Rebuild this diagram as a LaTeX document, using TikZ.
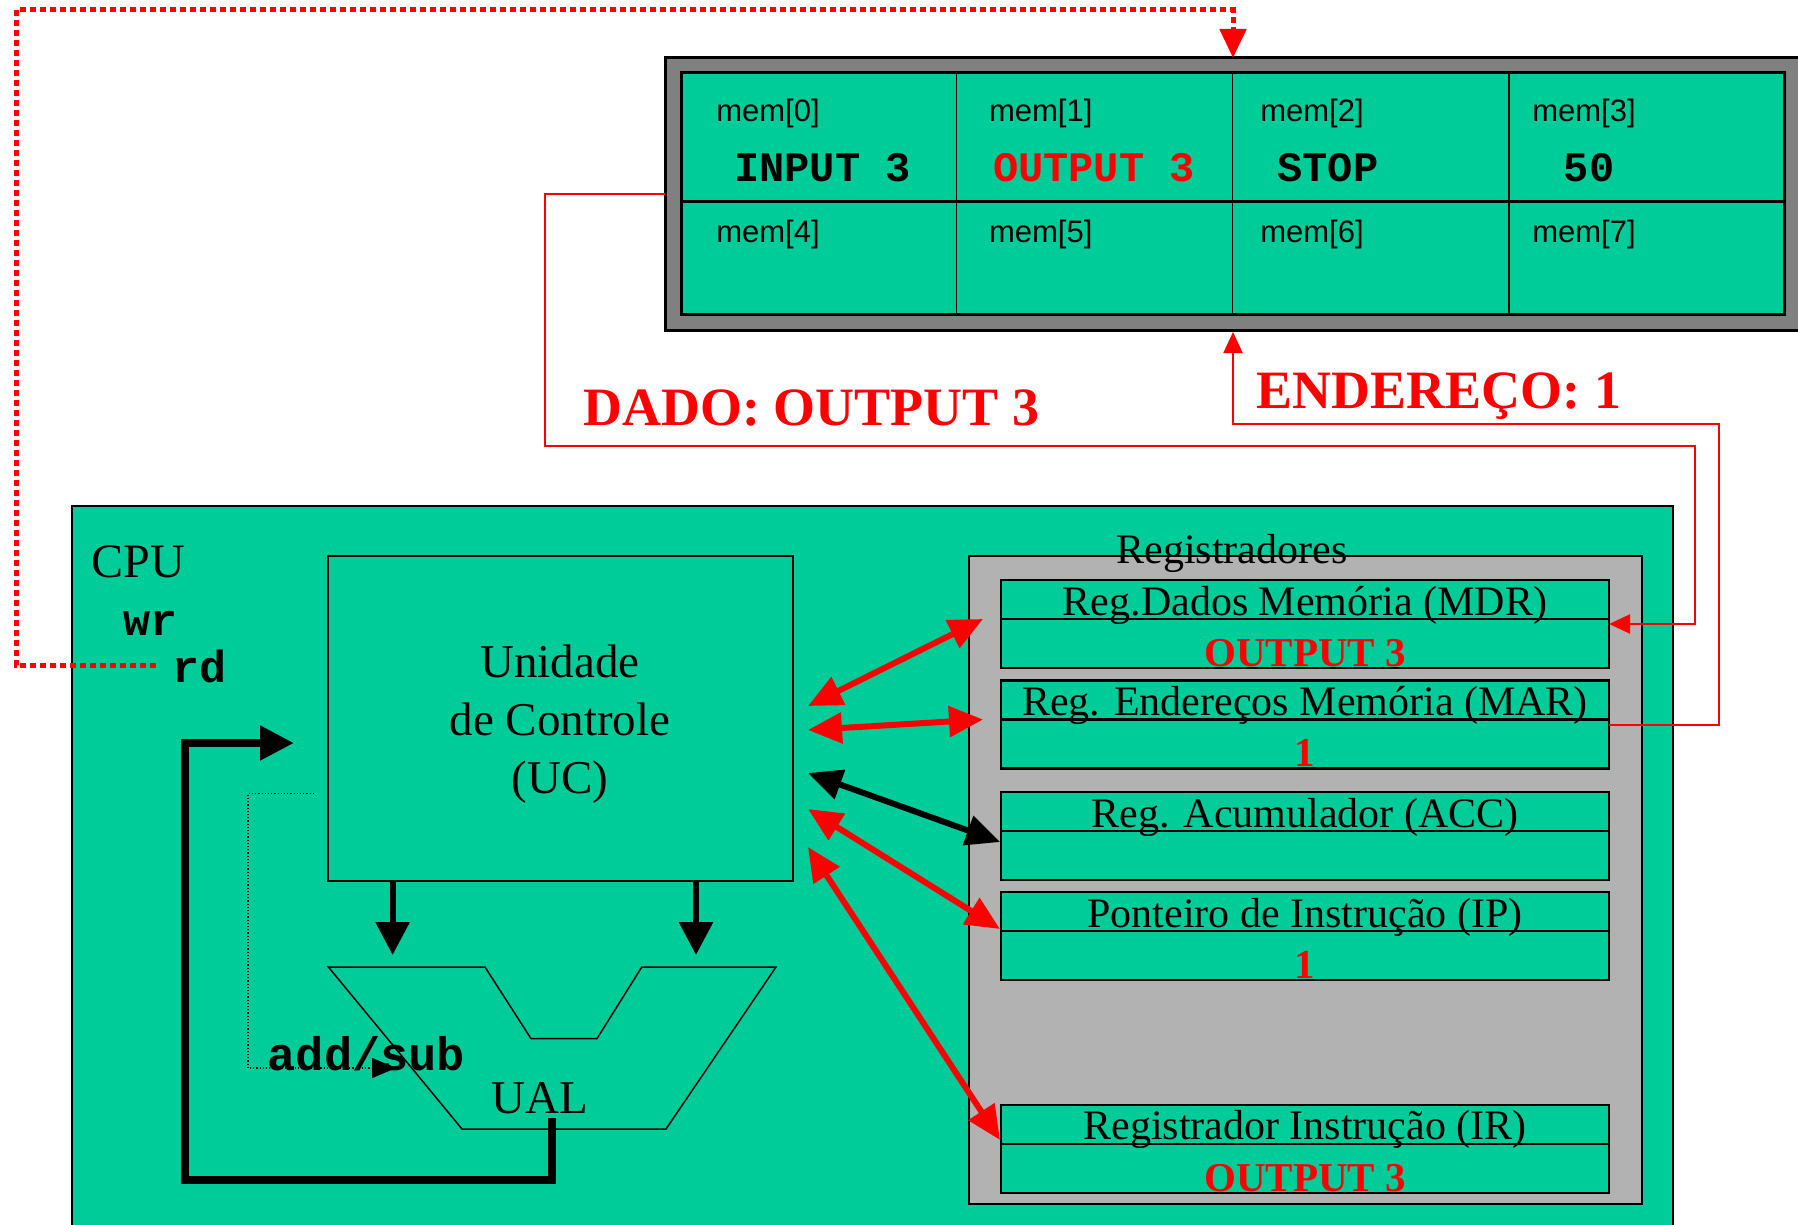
\documentclass[tikz,border=0pt]{standalone}
\usepackage{fontspec}
\setmainfont{Liberation Serif}
\newfontfamily\monof{Liberation Mono}
\newfontfamily\sansf{Liberation Sans}
\usetikzlibrary{arrows.meta,calc}
\definecolor{cgreen}{RGB}{0,204,153}
\definecolor{memgray}{RGB}{128,128,128}
\definecolor{reggray}{RGB}{178,178,178}
\newcommand\fsz[1]{\fontsize{#1}{#1}\selectfont}
\tikzset{
 box/.style={draw=black, anchor=north west, inner sep=0pt, outer sep=0pt},
 regbox/.style={box, fill=cgreen, line width=2.5pt, minimum width=608pt, minimum height=88pt},
 memcell/.style={box, line width=1.2pt, fill=cgreen},
 memlbl/.style={anchor=base, font=\sansf\fsz{31}},
 meminstr/.style={anchor=base, font=\monof\bfseries\fsz{42}},
 regtitle/.style={anchor=base, font=\fsz{42}},
 regval/.style={anchor=base, font=\bfseries\fsz{41}, text=red},
 bigred/.style={draw=red, line width=6pt, arrows={Triangle[length=34pt,width=30pt]-Triangle[length=34pt,width=30pt]}},
 bigblack/.style={draw=black, line width=6pt, arrows={Triangle[length=34pt,width=30pt]-Triangle[length=34pt,width=30pt]}},
 downarrow/.style={draw=black, line width=6pt, arrows={-Triangle[length=33pt,width=33pt]}},
 loopline/.style={draw=black, line width=8pt, arrows={-Triangle[length=34pt,width=33pt]}},
 redthin/.style={draw=red, line width=2pt, arrows={-Triangle[length=21pt,width=19pt]}},
 reddots/.style={draw=red, line width=5pt, dash pattern=on 6pt off 4pt, arrows={-Triangle[length=29pt,width=26pt]}},
 ctrldots/.style={draw=black, line width=1.2pt, dash pattern=on 1.2pt off 2pt, arrows={-Triangle[length=24pt,width=20pt]}},
 bigtxt/.style={anchor=base, font=\bfseries\fsz{54}, text=red}
}
\begin{document}
\begin{tikzpicture}[x=1pt,y=-1pt]
\useasboundingbox (0,0) rectangle (1798,1225);
\clip (0,0) rectangle (1798,1225);

% ---------------- CPU ----------------
\node[box, fill=cgreen, line width=2pt, minimum width=1601pt, minimum height=760pt] (cpu) at (72,506) {};
\node[anchor=base, font=\fsz{48}] (cputxt) at (138,577) {CPU};
\node[anchor=base, font=\monof\bfseries\fsz{45}] (wr) at (150.5,635) {wr};
\node[anchor=base, font=\monof\bfseries\fsz{45}, inner sep=0pt] (rd) at (199.5,682) {rd};

% registers group
\node[box, fill=reggray, line width=2pt, minimum width=673pt, minimum height=648pt] (regs) at (969,556) {};
\node[anchor=base, font=\fsz{42}] (regstxt) at (1232,563) {Registradores};

\node[regbox] (MDR) at (1001,580) {};
\node[regbox] (MAR) at (1001,680.5) {};
\node[regbox] (ACC) at (1001,792) {};
\node[regbox] (IP) at (1001,892) {};
\node[regbox] (IR) at (1001,1105) {};
\foreach \r in {MDR,MAR,ACC,IP,IR}{
  \draw[line width=2.5pt] ([yshift=-39pt]\r.north west) -- ([yshift=-39pt]\r.north east);
}
\node[regtitle] (tMDR) at ($(MDR.north)+(0,35)$) {Reg.Dados Memória (MDR)};
\node[regtitle] (tMAR) at ($(MAR.north)+(0,35)$) {Reg. Endereços Memória (MAR)};
\node[regtitle] (tACC) at ($(ACC.north)+(0,35)$) {Reg. Acumulador (ACC)};
\node[regtitle] (tIP) at ($(IP.north)+(0,35)$) {Ponteiro de Instrução (IP)};
\node[regtitle] (tIR) at ($(IR.north)+(0,34)$) {Registrador Instrução (IR)};
\node[regval] (vMDR) at ($(MDR.south)+(0,-2)$) {OUTPUT 3};
\node[regval] (vMAR) at ($(MAR.south)+(0,-2)$) {1};
\node[regval] (vIP) at ($(IP.south)+(0,-2)$) {1};
\node[regval] (vIR) at ($(IR.south)+(0,-2)$) {OUTPUT 3};

% control unit
\node[box, line width=1.5pt, minimum width=465pt, minimum height=325pt] (UC) at (328,556) {};
\node[align=center, font=\fontsize{47}{58}\selectfont] (uctxt) at (560,724) {Unidade\\de Controle\\(UC)};

% ALU
\draw[line width=1.5pt] (328.4,967) coordinate (ualA) -- (485,967) -- (531,1038.6) -- (597,1038.6) -- (641.8,967) -- (776,967) -- (666,1129) -- (462,1129) -- cycle;
\coordinate (ualin1) at (392.6,955);
\coordinate (ualin2) at (696,955);
\coordinate (ualout) at (552,1118);
\coordinate (ualctl) at (396,1068);
\node[anchor=base, font=\fsz{47}] (ualtxt) at (540,1113) {UAL};
\node[anchor=base, font=\monof\bfseries\fsz{47}] (addsub) at (366.5,1070) {add/sub};

% UC -> UAL
\draw[downarrow] ([xshift=64.6pt]UC.south west) -- (ualin1);
\draw[downarrow] ([xshift=-97pt]UC.south east) -- (ualin2);

% feedback loop
\coordinate (ucin) at ($(UC.west)+(-34,24.5)$);
\draw[loopline] (ualout) |- (185,1180) |- (ucin);

% control dotted
\draw[ctrldots] ($(UC.west)+(-14,75)$) -| (248,1068) -- (ualctl);

% UC <-> registers
\draw[bigred] ($(UC.east)+(15,-12.5)$) -- ($(MDR.west)+(-18,-5)$);
\draw[bigred] ($(UC.east)+(15,11.5)$) -- ($(MAR.west)+(-18,-5)$);
\draw[bigblack] ($(UC.east)+(15,54.5)$) -- ($(ACC.west)+(-1,6)$);
\draw[bigred] ($(UC.east)+(15,90.5)$) -- ($(IP.west)+(-1,-7)$);
\draw[bigred] ($(UC.east)+(15,128.5)$) -- ($(IR.west)+(-1,-9)$);

% ---------------- Memory ----------------
\node[box, fill=memgray, line width=3pt, minimum width=1160pt, minimum height=272pt] (memout) at (665,58) {};
\node[memcell, minimum width=275.4pt, minimum height=129pt] (mem0) at (681,73) {};
\node[memcell, minimum width=276.4pt, minimum height=129pt] (mem1) at (956.4,73) {};
\node[memcell, minimum width=276.2pt, minimum height=129pt] (mem2) at (1232.8,73) {};
\node[memcell, minimum width=275pt, minimum height=129pt] (mem3) at (1509,73) {};
\node[memcell, minimum width=275.4pt, minimum height=112pt] (mem4) at (681,202) {};
\node[memcell, minimum width=276.4pt, minimum height=112pt] (mem5) at (956.4,202) {};
\node[memcell, minimum width=276.2pt, minimum height=112pt] (mem6) at (1232.8,202) {};
\node[memcell, minimum width=275pt, minimum height=112pt] (mem7) at (1509,202) {};
\node[box, line width=3pt, minimum width=1103pt, minimum height=241pt] (meminner) at (681,73) {};
\draw[line width=3pt] (meminner.west |- mem0.south) -- (meminner.east |- mem0.south);

\node[memlbl] (l0) at (768,122) {mem[0]};
\node[memlbl] (l1) at (1040.7,122) {mem[1]};
\node[memlbl] (l2) at (1312,122) {mem[2]};
\node[memlbl] (l3) at (1584,122) {mem[3]};
\node[memlbl] (l4) at (768,242.5) {mem[4]};
\node[memlbl] (l5) at (1040.7,242.5) {mem[5]};
\node[memlbl] (l6) at (1312,242.5) {mem[6]};
\node[memlbl] (l7) at (1584,242.5) {mem[7]};
\node[meminstr] (i0) at (822.5,181.5) {INPUT 3};
\node[meminstr, text=red] (i1) at (1094,181.5) {OUTPUT 3};
\node[meminstr] (i2) at (1327.8,181.5) {STOP};
\node[meminstr] (i3) at (1589,181.5) {50};

% ---------------- buses ----------------
\coordinate (memtop) at ($(memout.north west)+(568,0)$);
\coordinate (membot) at ($(memout.south west)+(568,2)$);
\draw[reddots, line cap=butt] ([xshift=-16pt]rd.west) -| (16,10) -| (memtop);
\draw[redthin] (memout.west) -| (545,446) -| (1695,0 |- MDR.east) -- (MDR.east);
\draw[redthin] (MAR.east) -| (1719,424) -| (membot);

\node[bigtxt] (dado) at (811.5,425) {DADO: OUTPUT 3};
\node[bigtxt] (ender) at (1438.8,408) {ENDEREÇO: 1};
\end{tikzpicture}
\end{document}
